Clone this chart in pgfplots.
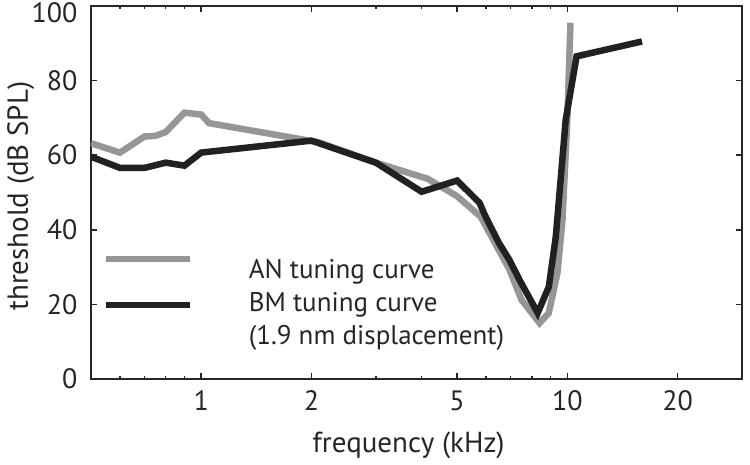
\documentclass[border=0pt]{standalone}
\usepackage{pgfplots}
\pgfplotsset{compat=1.18}
\usepackage{fontspec}
\setmainfont{PT Sans}
\definecolor{angray}{gray}{0.59}
\definecolor{bmblack}{gray}{0.13}
\definecolor{axcol}{gray}{0.15}
\begin{document}
\begin{tikzpicture}
\useasboundingbox (-91bp,-86bp) rectangle (659bp,379bp);
\begin{axis}[
  scale only axis,
  width=651bp, height=373bp,
  xmode=log,
  xmin=0.5, xmax=30,
  ymin=0, ymax=100,
  xtick={1,2,5,10,20},
  xticklabels={1,2,5,10,20},
  minor xtick={0.6,0.7,0.8,0.9,3,4,6,7,8,9},
  ytick={0,20,40,60,80},
  extra y ticks={100},
  extra y tick style={yticklabel style={yshift=-7bp}},
  tick align=inside,
  major tick length=6bp,
  minor tick length=3bp,
  axis line style={draw=axcol, line width=2bp},
  every tick/.style={draw=axcol, line width=1.5bp},
  /pgf/number format/assume math mode=true,
  tick label style={font=\fontsize{28bp}{32bp}\selectfont, text=axcol},
  yticklabel style={xshift=-10bp},
  xticklabel style={yshift=-8bp},
  label style={font=\fontsize{29bp}{33bp}\selectfont, text=axcol},
  xlabel={frequency (kHz)},
  ylabel={threshold (dB SPL)},
  xlabel style={at={(axis description cs:0.488,-0.177)}, anchor=center},
  ylabel style={at={(axis description cs:-0.108,0.49)}, anchor=center},
  legend style={draw=none, fill=none, inner sep=0pt, at={(rel axis cs:0.017,0.332)}, anchor=north west,
    font=\fontsize{27bp}{33bp}\selectfont, text=axcol,
    nodes={inner sep=0pt, text height=23bp, text depth=10bp},
    cells={anchor=west}, row sep=0bp,
    /tikz/every odd column/.append style={column sep=56bp}},
  legend image code/.code={\draw[#1] (0bp,0bp) -- (84bp,0bp);},
  legend cell align=left,
]
\addplot[angray, line width=6.5bp, line join=miter, legend image post style={yshift=13bp}] coordinates {
(0.5,63.2) (0.6,60.7) (0.7,65.0) (0.75,65.2) (0.8,66.2) (0.9,71.4) (1.0,70.9) (1.05,68.6)
(2.0,63.8) (2.1,63.4) (3.0,58.0) (4.15,53.7) (5.0,49.0) (5.8,43.5) (6.95,29.3) (7.5,21.2)
(8.4,15.0) (8.9,17.7) (9.4,28.5) (9.7,42.7) (10.0,69.5) (10.2,95.5)
};
\addlegendentry{AN tuning curve}
\addplot[bmblack, line width=6.5bp, line join=miter] coordinates {
(0.5,59.6) (0.6,56.6) (0.7,56.6) (0.8,58.0) (0.9,57.2) (1.0,60.7) (2.0,63.9) (3.0,58.0)
(4.0,50.2) (5.0,53.2) (5.76,47.2) (5.95,44.0) (6.5,36.5) (6.95,31.9) (7.4,26.6) (8.3,17.7)
(8.9,24.7) (9.3,38.1) (9.9,69.5) (10.6,86.5) (16.0,90.5)
};
\addlegendentry{BM tuning curve}
\addlegendimage{empty legend}
\addlegendentry{(1.9 nm displacement)}
\end{axis}
\end{tikzpicture}
\end{document}
